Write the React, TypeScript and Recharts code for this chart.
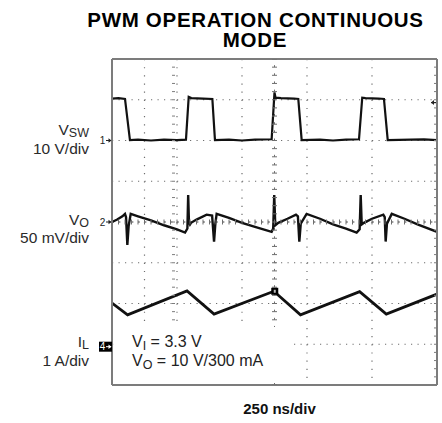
import React from 'react';
import {
  ComposedChart,
  Line,
  Scatter,
  XAxis,
  YAxis,
  CartesianGrid,
  ReferenceLine,
  ReferenceDot,
} from 'recharts';

const W = 442;
const H = 423;
const FONT = "'Liberation Sans', Arial, Helvetica, sans-serif";
const GRID = '#6e6e6e';
const FRAME = '#7c7c7c';
const TRACE = '#111';

// time axis in ns, 250 ns/div, 10 divisions
const timeTicks = [0, 250, 500, 750, 1000, 1250, 1500, 1750, 2000, 2250, 2500];
// vertical screen divisions (8)
const divTicks = [0, 1, 2, 3, 4, 5, 6, 7, 8];
// graticule minor marks (5 per division)
const minorT = Array.from({ length: 51 }, (_, i) => i * 50);
const minorDiv = Array.from({ length: 41 }, (_, i) => Math.round(i * 2) / 10);

// CH1 switch node, volts (10 V/div, ground at div 6)
const vswT = [0, 50, 100, 138, 200, 300, 400, 500, 569, 590, 610, 700, 772, 792, 900, 1000, 1100, 1228, 1250, 1258, 1300, 1400, 1433, 1459, 1600, 1700, 1800, 1900, 1925, 1950, 2050, 2092, 2121, 2300, 2400, 2500];
const vswV = [10.3, 10.4, 10.2, 0.1, 0.2, 0, 0.2, 0.1, 0.2, 10.7, 10.4, 10.3, 10.2, 0.1, 0.2, 0, 0.2, 0.3, 11.8, 10.5, 10.4, 10.3, 10.2, 0.1, 0.2, 0, 0.2, 0.3, 10.5, 10.4, 10.3, 10.2, 0.1, 0.2, 0.3, 0.1];

// CH2 output ripple, mV (50 mV/div, AC, centred at div 4)
const voT = [0, 40, 80, 100, 108, 118, 128, 144, 200, 300, 400, 500, 562, 580, 586, 592, 600, 608, 650, 728, 770, 785, 795, 805, 900, 1000, 1100, 1228, 1240, 1248, 1256, 1279, 1350, 1415, 1430, 1441, 1452, 1497, 1600, 1700, 1800, 1882, 1905, 1913, 1921, 1938, 2000, 2087, 2098, 2105, 2115, 2152, 2250, 2350, 2500];
const voMv = [0, 3, 7, 10, 6, -28, -5, 10, 7, 2, -4, -9, -13, -8, 33, 0, -3, -1, 3, 9, 8, -24, -2, 10, 5, -1, -6, -12, -8, 33, -4, -1, 4, 9, 7, -24, -2, 10, 4, -3, -8, -13, -9, 33, -3, -1, 4, 9, 6, -24, -2, 10, 4, -3, -12];

// CH4 inductor current, A (1 A/div)
const ilT = [0, 120, 577, 785, 1245, 1450, 1905, 2110, 2500];
const ilA = [1.07, 0.78, 1.37, 0.8, 1.36, 0.78, 1.35, 0.8, 1.29];

const vswData = vswT.map((t, i) => ({ t, v: vswV[i] }));
const voData = voT.map((t, i) => ({ t, v: voMv[i] }));
const ilData = ilT.map((t, i) => ({ t, v: ilA[i] }));
const centerHData = minorT.map((t) => ({ t, d: 4 }));
const centerVData = minorDiv.map((d) => ({ t: 1250, d }));

const noLabel = () => <g />;

const vTick = (p: any) => (
  <line x1={p.cx} x2={p.cx} y1={p.cy - 2.5} y2={p.cy + 2.5} stroke={GRID} strokeWidth={1} />
);
const hTick = (p: any) => (
  <line x1={p.cx - 2.5} x2={p.cx + 2.5} y1={p.cy} y2={p.cy} stroke={GRID} strokeWidth={1} />
);

const chMarker = (label: string, boxed: boolean) => (p: any) => {
  const x = p.cx;
  const y = p.cy;
  const c = boxed ? '#fff' : '#222';
  return (
    <g>
      {boxed && <rect x={x - 13} y={y - 5} width={13} height={10} fill="#000" />}
      <text x={x - 9.5} y={y + 3.5} fontSize={10} fontFamily={FONT} textAnchor="middle" fill={c}>
        {label}
      </text>
      <line x1={x - 6} x2={x - 1} y1={y} y2={y} stroke={c} strokeWidth={1} />
      <path d={`M${x - 0.5},${y} l-3,-2.2 v4.4 z`} fill={c} />
    </g>
  );
};

const trigArrow = (p: any) => (
  <g>
    <line x1={p.cx - 6} x2={p.cx - 1} y1={p.cy} y2={p.cy} stroke="#222" strokeWidth={1.2} />
    <path d={`M${p.cx - 6},${p.cy} l3,-2.5 v5 z`} fill="#222" />
  </g>
);

const ilCursor = (p: any) => (
  <g>
    <rect x={p.cx - 3.5} y={p.cy - 3.5} width={7} height={7} fill="#000" />
    <rect x={p.cx - 1} y={p.cy - 1.5} width={2} height={3} fill="#bbb" />
  </g>
);

export default function App() {
  return (
    <div style={{ position: 'absolute', left: 0, top: 0, width: W, height: H, background: '#fff' }}>
      <ComposedChart width={W} height={H} margin={{ top: 59, right: 5, bottom: 38, left: 112 }}>
        <XAxis xAxisId={0} dataKey="t" type="number" domain={[0, 2500]} ticks={timeTicks} allowDataOverflow
          orientation="bottom" mirror axisLine={{ stroke: FRAME, strokeWidth: 2 }} tickLine={false} tick={noLabel} />
        <XAxis xAxisId="bm" type="number" domain={[0, 2500]} ticks={minorT} allowDataOverflow interval={0}
          orientation="bottom" mirror axisLine={false} tickSize={3} tickLine={{ stroke: FRAME }} tick={noLabel} />
        <XAxis xAxisId="tp" type="number" domain={[0, 2500]} ticks={minorT} allowDataOverflow interval={0}
          orientation="top" mirror axisLine={{ stroke: FRAME, strokeWidth: 2 }} tickSize={3} tickLine={{ stroke: FRAME }} tick={noLabel} />

        <YAxis yAxisId={0} dataKey="d" type="number" domain={[0, 8]} ticks={divTicks} allowDataOverflow
          orientation="left" mirror axisLine={{ stroke: FRAME, strokeWidth: 2 }} tickLine={false} tick={noLabel} />
        <YAxis yAxisId="lm" type="number" domain={[0, 8]} ticks={minorDiv} allowDataOverflow interval={0}
          orientation="left" mirror axisLine={false} tickSize={3} tickLine={{ stroke: FRAME }} tick={noLabel} />
        <YAxis yAxisId="rt" type="number" domain={[0, 8]} ticks={minorDiv} allowDataOverflow interval={0}
          orientation="right" mirror axisLine={{ stroke: FRAME, strokeWidth: 2 }} tickSize={3} tickLine={{ stroke: FRAME }} tick={noLabel} />
        <YAxis yAxisId="vsw" type="number" domain={[-60, 20]} allowDataOverflow hide />
        <YAxis yAxisId="vo" type="number" domain={[-200, 200]} allowDataOverflow hide />
        <YAxis yAxisId="il" type="number" domain={[-0.94, 7.06]} allowDataOverflow hide />

        <CartesianGrid xAxisId={0} yAxisId={0} vertical={false} stroke={GRID} strokeWidth={1.2} strokeDasharray="1.2 5.3" />
        <CartesianGrid xAxisId={0} yAxisId={0} horizontal={false} stroke={GRID} strokeWidth={1.2} strokeDasharray="1.2 6.95" />
        <ReferenceLine y={4} stroke={GRID} strokeDasharray="2 4.5" />
        <ReferenceLine x={1250} stroke={GRID} strokeDasharray="2 6.15" />
        <Scatter data={centerHData} dataKey="d" shape={vTick} isAnimationActive={false} />
        <Scatter data={centerVData} dataKey="d" shape={hTick} isAnimationActive={false} />

        <Line data={vswData} yAxisId="vsw" dataKey="v" type="linear" stroke={TRACE} strokeWidth={2.2} dot={false} isAnimationActive={false} />
        <Line data={voData} yAxisId="vo" dataKey="v" type="linear" stroke={TRACE} strokeWidth={2.4} dot={false} isAnimationActive={false} />
        <Line data={ilData} yAxisId="il" dataKey="v" type="linear" stroke={TRACE} strokeWidth={2.8} dot={false} isAnimationActive={false} />

        <ReferenceDot x={0} y={0} yAxisId="vsw" shape={chMarker('1', false)} />
        <ReferenceDot x={0} y={0} yAxisId="vo" shape={chMarker('2', false)} />
        <ReferenceDot x={0} y={0} yAxisId="il" shape={chMarker('4', true)} />
        <ReferenceDot x={2500} y={9.3} yAxisId="vsw" shape={trigArrow} />
        <ReferenceDot x={1252} y={1.36} yAxisId="il" shape={ilCursor} />
      </ComposedChart>

      <svg width={W} height={H} style={{ position: 'absolute', left: 0, top: 0, pointerEvents: 'none' }} fontFamily={FONT}>
        <text fontSize={20.5} letterSpacing={0.7} fontWeight="bold" textAnchor="middle" fill="#000">
          <tspan x={255.5} y={26.5}>PWM OPERATION CONTINUOUS</tspan>
          <tspan x={255} y={47}>MODE</tspan>
        </text>

        <g fill="#2a2a2a" fontSize={15.5} textAnchor="end">
          <text x={89} y={135}>V<tspan fontSize={12.5} dy={2}>SW</tspan></text>
          <text x={89} y={154}>10 V/div</text>
          <text x={89} y={225}>V<tspan fontSize={12.5} dy={2}>O</tspan></text>
          <text x={89} y={243}>50 mV/div</text>
          <text x={89} y={347}>I<tspan fontSize={12.5} dy={2}>L</tspan></text>
          <text x={89} y={366}>1 A/div</text>
        </g>

        {/* note box that hides the graticule behind the test conditions */}
        <rect x={116} y={327} width={176} height={54} fill="#fff" />
        <g fill="#222" fontSize={16}>
          <text x={132} y={347}>V<tspan fontSize={12.5} dy={3}>I</tspan><tspan dy={-3}> = 3.3 V</tspan></text>
          <text x={132} y={366}>V<tspan fontSize={12.5} dy={3}>O</tspan><tspan dy={-3}> = 10 V/300 mA</tspan></text>
        </g>

        <text x={279.5} y={414} fontSize={15} fontWeight="bold" textAnchor="middle" fill="#111">250 ns/div</text>
      </svg>
    </div>
  );
}
